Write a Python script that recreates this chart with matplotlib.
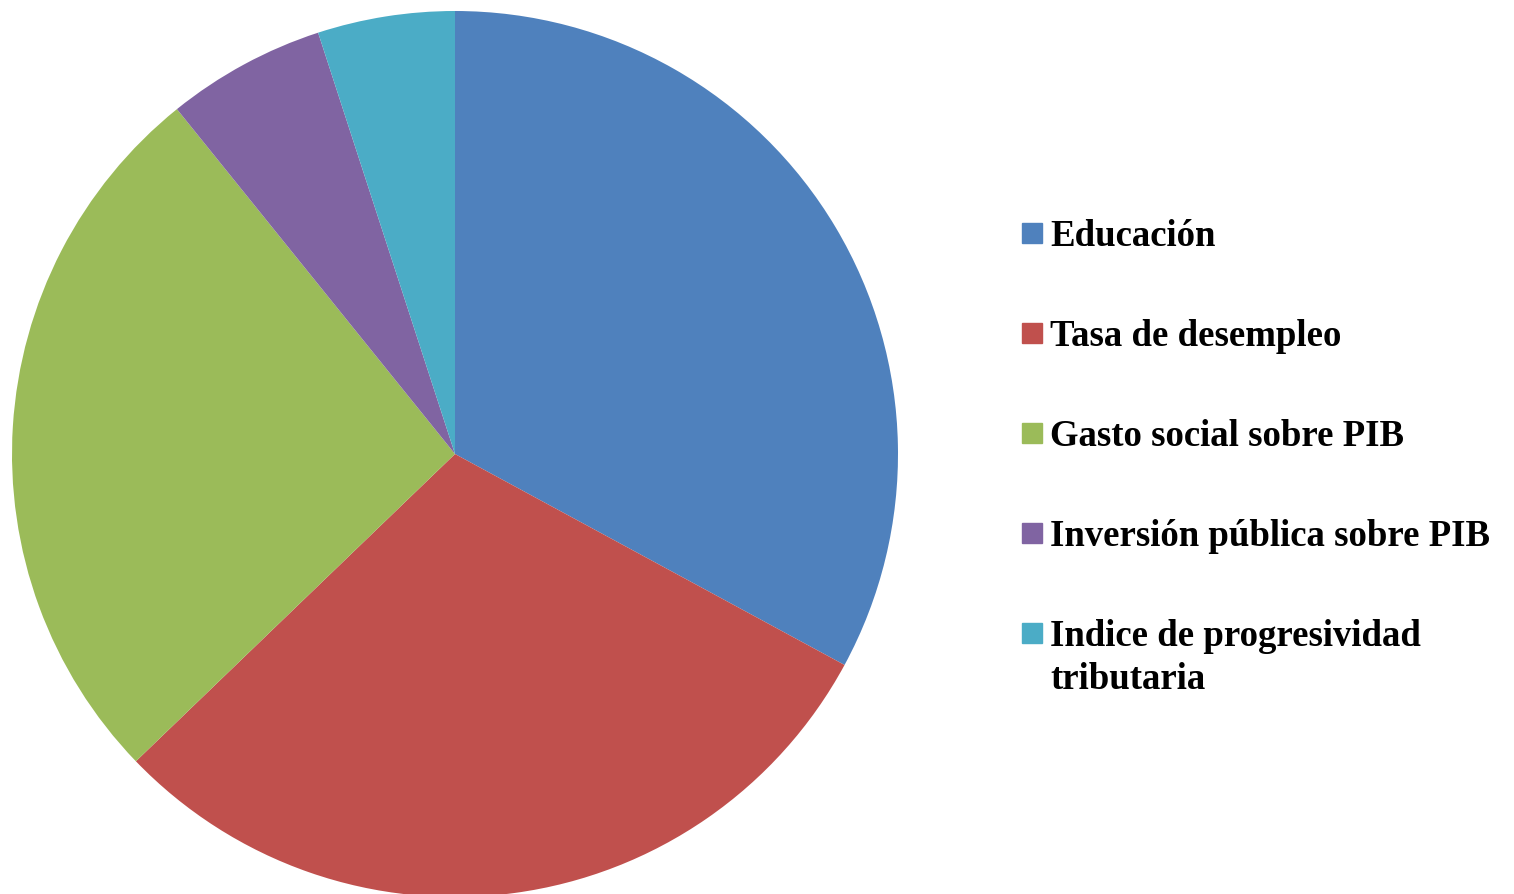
import matplotlib.pyplot as plt
from matplotlib.patches import Rectangle

# shares (percent)
labels = ['Educación', 'Tasa de desempleo', 'Gasto social sobre PIB',
          'Inversión pública sobre PIB', 'Indice de progresividad\ntributaria']
values = [32.9, 29.9, 26.4, 5.8, 5.0]
colors = ['#4F81BD', '#C0504D', '#9BBB59', '#8064A2', '#4BACC6']

W, H = 1514, 895
fig = plt.figure(figsize=(W / 100, H / 100), dpi=100)

# pie centre (455, 455) px, radius 443 px
cx, cy, r = 455, 455, 443
ax = fig.add_axes([(cx - r) / W, (H - cy - r) / H, 2 * r / W, 2 * r / H])
ax.pie(values, colors=colors, startangle=90, counterclock=False,
       radius=1, wedgeprops=dict(linewidth=0))
ax.set_xlim(-1, 1)
ax.set_ylim(-1, 1)
ax.set_aspect('equal')
ax.axis('off')

# legend drawn by hand to keep the Excel-like spacing
for i, (lab, col) in enumerate(zip(labels, colors)):
    top = 224 + i * 100
    fig.patches.append(Rectangle((1022 / W, 1 - (top + 20) / H), 20 / W, 20 / H,
                                 transform=fig.transFigure, color=col))
    for j, line in enumerate(lab.split('\n')):
        fig.text(1050 / W, 1 - (top + 22 + j * 43) / H, line, va='baseline',
                 ha='left', family='Liberation Serif', fontweight='bold',
                 fontsize=26.5)

fig.savefig('out.png', dpi=100)
